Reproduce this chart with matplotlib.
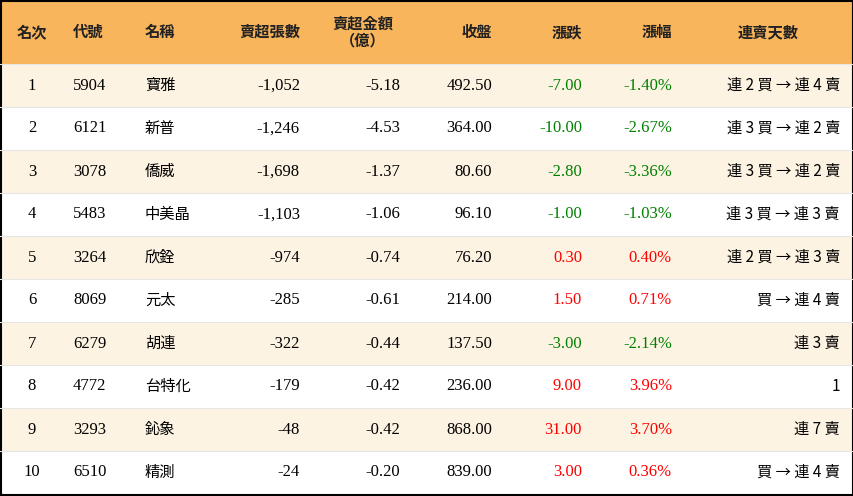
import matplotlib.pyplot as plt
from matplotlib.patches import Rectangle

headers = ['名次', '代號', '名稱', '賣超張數', '賣超金額\n（億）', '收盤', '漲跌', '漲幅', '連賣天數']
ranks = ['1', '2', '3', '4', '5', '6', '7', '8', '9', '10']
codes = ['5904', '6121', '3078', '5483', '3264', '8069', '6279', '4772', '3293', '6510']
names = ['寶雅', '新普', '僑威', '中美晶', '欣銓', '元太', '胡連', '台特化', '鈊象', '精測']
lots = ['-1,052', '-1,246', '-1,698', '-1,103', '-974', '-285', '-322', '-179', '-48', '-24']
amount = ['-5.18', '-4.53', '-1.37', '-1.06', '-0.74', '-0.61', '-0.44', '-0.42', '-0.42', '-0.20']
close = ['492.50', '364.00', '80.60', '96.10', '76.20', '214.00', '137.50', '236.00', '868.00', '839.00']
change = [-7.00, -10.00, -2.80, -1.00, 0.30, 1.50, -3.00, 9.00, 31.00, 3.00]
pct = [-1.40, -2.67, -3.36, -1.03, 0.40, 0.71, -2.14, 3.96, 3.70, 0.36]
streak = ['連 2 買 → 連 4 賣', '連 3 買 → 連 2 賣', '連 3 買 → 連 2 賣', '連 3 買 → 連 3 賣',
          '連 2 買 → 連 3 賣', '買 → 連 4 賣', '連 3 賣', '1', '連 7 賣', '買 → 連 4 賣']

W, H = 854, 496
HEAD = 64
ROW = 43
cjk = ['Noto Sans CJK TC', 'Noto Sans CJK JP', 'Noto Sans CJK SC', 'DejaVu Sans']
num = 'Liberation Serif'

fig = plt.figure(figsize=(W / 100, H / 100), dpi=100)
ax = fig.add_axes([0, 0, 1, 1])
ax.set_xlim(0, W)
ax.set_ylim(H, 0)
ax.axis('off')

ax.add_patch(Rectangle((0, 0), W, HEAD, color='#F9B55C', lw=0))
for i in range(len(ranks)):
    y0 = HEAD + i * ROW
    if i % 2 == 0:
        ax.add_patch(Rectangle((0, y0), W, ROW, color='#FDF3E2', lw=0))
    ax.plot([0, W], [y0, y0], color='#E6E6E6', lw=0.8)
ax.add_patch(Rectangle((1, 1), W - 2, H - 2, fill=False, ec='black', lw=1.5))

# header: (x, ha)
hpos = [(32, 'center'), (73, 'left'), (145, 'left'), (300, 'right'), (363, 'center'),
        (492, 'right'), (582, 'right'), (672, 'right'), (768, 'center')]
for (x, ha), h in zip(hpos, headers):
    ax.text(x, HEAD / 2, h, ha=ha, va='center', fontsize=11, fontfamily=cjk,
            fontweight='bold', color='#222222', linespacing=1.0, multialignment='center')

for i in range(len(ranks)):
    y = HEAD + i * ROW + ROW / 2
    col = '#008000' if change[i] < 0 else '#FF0000'
    ax.text(32, y, ranks[i], ha='center', va='center', fontsize=12, fontfamily=num)
    ax.text(73, y, codes[i], ha='left', va='center', fontsize=12, fontfamily=num)
    ax.text(145, y, names[i], ha='left', va='center', fontsize=11, fontfamily=cjk)
    ax.text(300, y, lots[i], ha='right', va='center', fontsize=12, fontfamily=num)
    ax.text(400, y, amount[i], ha='right', va='center', fontsize=12, fontfamily=num)
    ax.text(492, y, close[i], ha='right', va='center', fontsize=12, fontfamily=num)
    ax.text(582, y, f'{change[i]:.2f}', ha='right', va='center', fontsize=12,
            fontfamily=num, color=col)
    ax.text(672, y, f'{pct[i]:.2f}%', ha='right', va='center', fontsize=12,
            fontfamily=num, color=col)
    ax.text(840, y, streak[i], ha='right', va='center', fontsize=11, fontfamily=cjk)

fig.savefig('out.png', dpi=100)
